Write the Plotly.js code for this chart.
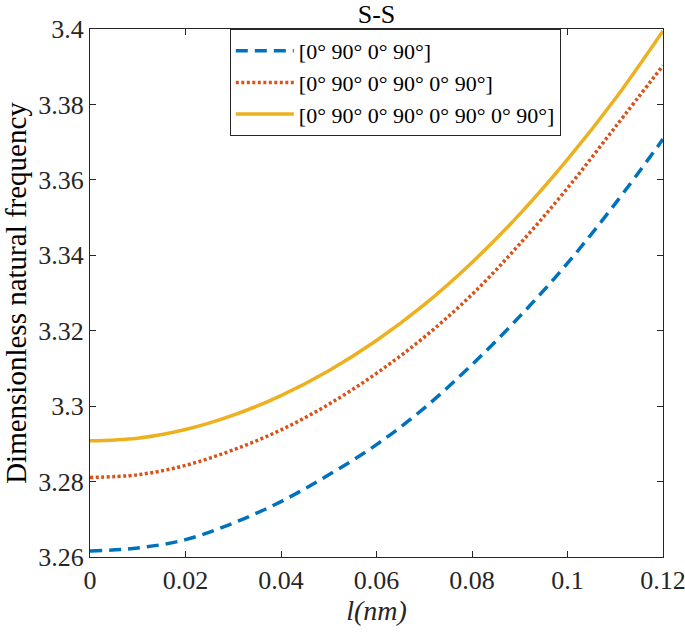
<!DOCTYPE html>
<html>
<head>
<meta charset="utf-8">
<script src="https://cdn.plot.ly/plotly-3.0.1.min.js"></script>
<style>html,body{margin:0;padding:0;background:#fff;}</style>
</head>
<body>
<div id="chart" style="width:685px;height:632px;"></div>
<script>
const lengthScale = [0, 0.01, 0.02, 0.03, 0.04, 0.05, 0.06, 0.07, 0.08, 0.09, 0.10, 0.11, 0.12];
const freq4Layer = [3.2616, 3.2624, 3.2646, 3.2690, 3.2747, 3.2818, 3.2898, 3.2995, 3.3110, 3.3238, 3.3379, 3.3537, 3.3708];
const freq6Layer = [3.2811, 3.2818, 3.2843, 3.2884, 3.2937, 3.3005, 3.3087, 3.3183, 3.3296, 3.3430, 3.3578, 3.3740, 3.3903];
const freq8Layer = [3.2908, 3.2915, 3.2938, 3.2976, 3.3028, 3.3094, 3.3174, 3.3269, 3.3381, 3.3509, 3.3654, 3.3815, 3.3995];
const seriesNames = ["[0° 90° 0° 90°]", "[0° 90° 0° 90° 0° 90°]", "[0° 90° 0° 90° 0° 90° 0° 90°]"];
const xTicks = [0, 0.02, 0.04, 0.06, 0.08, 0.1, 0.12];
const xTickText = ["0", "0.02", "0.04", "0.06", "0.08", "0.1", "0.12"];
const yTicks = [3.26, 3.28, 3.3, 3.32, 3.34, 3.36, 3.38, 3.4];
const yTickText = ["3.26", "3.28", "3.3", "3.32", "3.34", "3.36", "3.38", "3.4"];

const SERIF = '"Liberation Serif", "Times New Roman", serif';
const colors = ['#0072BD', '#D95319', '#EDB120'];
const dashes = ['12px,7px', '3px,2.5px', 'solid'];
const seriesData = [freq4Layer, freq6Layer, freq8Layer];

const traces = seriesData.map((ys, i) => ({
  x: lengthScale, y: ys, name: seriesNames[i], mode: 'lines',
  line: {color: colors[i], width: 3.5, dash: dashes[i], shape: 'spline'}
}));

const axisCommon = {
  showgrid: false, zeroline: false, showline: true, mirror: 'ticks',
  linecolor: '#262626', linewidth: 1, ticks: 'inside', ticklen: 6, tickwidth: 1,
  tickcolor: '#262626', ticklabeloverflow: 'allow',
  tickfont: {family: SERIF, size: 26, color: '#262626'}
};

const layout = {
  width: 685, height: 632,
  margin: {l: 90, r: 22, t: 29, b: 75},
  paper_bgcolor: '#fff', plot_bgcolor: '#fff',
  font: {family: SERIF, color: '#000'},
  title: {text: 'S-S', x: 0.5, xref: 'paper', yref: 'container', y: 0.992, yanchor: 'top',
          font: {family: SERIF, size: 26, color: '#000'}},
  xaxis: Object.assign({}, axisCommon, {
    range: [0, 0.12], tickvals: xTicks, ticktext: xTickText,
    title: {text: '<i>l(nm)</i>', standoff: 4,
            font: {family: SERIF, size: 28, color: '#262626'}}
  }),
  yaxis: Object.assign({}, axisCommon, {
    range: [3.26, 3.4], tickvals: yTicks, ticktext: yTickText,
    title: {text: 'Dimensionless natural frequency', standoff: 4,
            font: {family: SERIF, size: 29, color: '#000'}}
  }),
  showlegend: true,
  legend: {x: 0.244, y: 1, xanchor: 'left', yanchor: 'top',
           bgcolor: '#fff', bordercolor: '#262626', borderwidth: 1,
           font: {family: SERIF, size: 22, color: '#000'},
           tracegroupgap: 0, itemwidth: 58}
};

function forceSerif() {
  document.querySelectorAll('#chart text, #chart tspan').forEach(el => {
    el.setAttribute('font-family', 'Liberation Serif');
    el.style.setProperty('font-family', "'Liberation Serif', 'Times New Roman', serif", 'important');
  });
}

Plotly.newPlot('chart', traces, layout, {displayModeBar: false, staticPlot: true}).then(forceSerif);
</script>
</body>
</html>
